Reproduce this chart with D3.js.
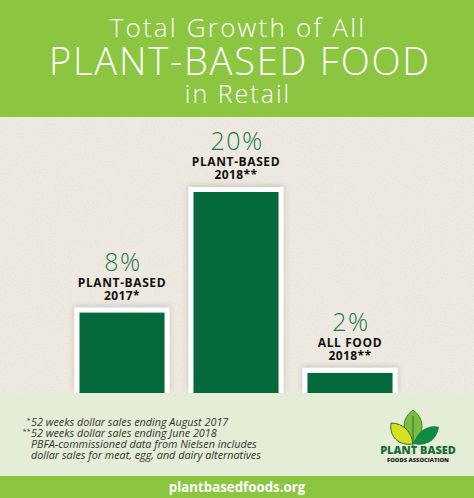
<!DOCTYPE html>
<html><head><meta charset="utf-8">
<script src="https://cdn.jsdelivr.net/npm/d3@7"></script>
<style>html,body{margin:0;padding:0;background:#f1ede5;}svg{display:block;}</style>
</head><body>
<script>
const categories = ["PLANT-BASED|2017*", "PLANT-BASED|2018**", "ALL FOOD|2018**"];
const values = [8, 20, 2];
const valueLabels = ["8%", "20%", "2%"];
const titleLines = ["Total Growth of All", "PLANT-BASED FOOD", "in Retail"];
const footnotes = ["*", "**", "", ""];
const footnoteTexts = ["52 weeks dollar sales ending August 2017", "52 weeks dollar sales ending June 2018", "PBFA-commissioned data from Nielsen includes", "dollar sales for meat, egg, and dairy alternatives"];
const website = "plantbasedfoods.org";
const logoLines = ["PLANT BASED", "FOODS ASSOCIATION"];

const W = 474, H = 498;
const svg = d3.select("body").append("svg").attr("width", W).attr("height", H);
const defs = svg.append("defs");
const f = defs.append("filter").attr("id","tex").attr("x",0).attr("y",0).attr("width","100%").attr("height","100%");
f.append("feTurbulence").attr("type","fractalNoise").attr("baseFrequency",0.9).attr("numOctaves",2).attr("seed",3).attr("result","n");
f.append("feColorMatrix").attr("in","n").attr("type","matrix").attr("values","0 0 0 0 0.55  0 0 0 0 0.5  0 0 0 0 0.42  0 0 0 0.35 -0.08").attr("result","c");
f.append("feComposite").attr("in","c").attr("in2","SourceGraphic").attr("operator","over");
const sh = defs.append("filter").attr("id","sh").attr("x","-20%").attr("y","-20%").attr("width","140%").attr("height","140%");
sh.append("feDropShadow").attr("dx",0).attr("dy",-1).attr("stdDeviation",3).attr("flood-color","#000").attr("flood-opacity",0.18);

// background
svg.append("rect").attr("x",0).attr("y",117).attr("width",W).attr("height",276).attr("fill","#f1ede5").attr("filter","url(#tex)");
// header
svg.append("rect").attr("x",0).attr("y",0).attr("width",W).attr("height",117).attr("fill","#8cc540");
const tf = "'Open Sans', 'Noto Sans', sans-serif";
svg.append("text").attr("x",238).attr("y",37).attr("text-anchor","middle").attr("font-family",tf).attr("font-weight",300).attr("font-size",26).attr("letter-spacing",2.2).attr("fill","#fff").text(titleLines[0]);
svg.append("text").attr("x",240).attr("y",75).attr("text-anchor","middle").attr("font-family",tf).attr("font-weight",300).attr("font-size",38).attr("letter-spacing",1.8).attr("fill","#fff").text(titleLines[1]);
svg.append("text").attr("x",238).attr("y",103).attr("text-anchor","middle").attr("font-family",tf).attr("font-weight",300).attr("font-size",25).attr("letter-spacing",2).attr("fill","#fff").text(titleLines[2]);

// scales
const x = d3.scaleBand().domain(categories).range([65, 407]).paddingInner(0.254).paddingOuter(0.127);
const y = d3.scaleLinear().domain([0, 20]).range([393, 192]);

const g = svg.append("g");
const bars = g.selectAll("g.bar").data(values.map((v,i)=>({v, c:categories[i], l:valueLabels[i]}))).join("g");
bars.append("rect").attr("x",d=>x(d.c)-5).attr("y",d=>y(d.v)-5).attr("width",x.bandwidth()+10).attr("height",d=>393-y(d.v)+5).attr("fill","#fff").attr("filter","url(#sh)");
bars.append("rect").attr("x",d=>x(d.c)).attr("y",d=>y(d.v)).attr("width",x.bandwidth()).attr("height",d=>393-y(d.v)).attr("fill","#03693a");
bars.append("text").attr("x",d=>x(d.c)+x.bandwidth()/2+1).attr("y",d=>y(d.v)-42).attr("text-anchor","middle").attr("font-family",tf).attr("font-weight",300).attr("font-size",25).attr("letter-spacing",1.5).attr("fill","#1d7a44").text(d=>d.l);
bars.append("text").attr("x",d=>x(d.c)+x.bandwidth()/2).attr("y",d=>y(d.v)-26).attr("text-anchor","middle").attr("font-family",tf).attr("font-weight",700).attr("font-size",12).attr("letter-spacing",0.6).attr("fill","#111").text(d=>d.c.split("|")[0]);
bars.append("text").attr("x",d=>x(d.c)+x.bandwidth()/2).attr("y",d=>y(d.v)-13).attr("text-anchor","middle").attr("font-family",tf).attr("font-weight",700).attr("font-size",12).attr("letter-spacing",0.4).attr("fill","#111").text(d=>d.c.split("|")[1]);

// footer panel
svg.append("rect").attr("x",0).attr("y",393).attr("width",W).attr("height",84).attr("fill","#e4edd6");
svg.append("rect").attr("x",0).attr("y",476).attr("width",W).attr("height",22).attr("fill","#8cc540");
svg.append("text").attr("x",237).attr("y",492).attr("text-anchor","middle").attr("font-family",tf).attr("font-weight",700).attr("font-size",13.3).attr("fill","#fff").text(website);

const fn = svg.append("g").attr("font-family",tf).attr("font-style","italic").attr("font-size",10.8).attr("fill","#333");
footnoteTexts.forEach((t,i)=>{
  fn.append("text").attr("x",31).attr("y",426+i*11).text(t);
  if (footnotes[i]) fn.append("text").attr("x",30).attr("y",423+i*11).attr("text-anchor","end").attr("font-size",7).text(footnotes[i]);
});

// logo
const lg = svg.append("g");
lg.append("path").attr("d","M413,444 C400,432 402,418 413,410 C424,418 426,432 413,444 Z").attr("fill","#7cbd3e").attr("stroke","#2c6e35").attr("stroke-width",0.8);
lg.append("path").attr("d","M413,444 C399,446 389,437 391,423 C403,423 412,432 413,444 Z").attr("fill","#d7df23").attr("stroke","#2c6e35").attr("stroke-width",1);
lg.append("path").attr("d","M413,444 C418,430 429,424 439,427 C437,441 425,447 413,444 Z").attr("fill","#128a42");
lg.append("line").attr("x1",413).attr("y1",446).attr("x2",413).attr("y2",416).attr("stroke","#2c6e35").attr("stroke-width",1);
lg.append("text").attr("x",418).attr("y",454).attr("text-anchor","middle").attr("font-family",tf).attr("font-weight",800).attr("font-size",11).attr("fill","#1c6b3a").text(logoLines[0]);
lg.append("text").attr("x",418).attr("y",461.5).attr("text-anchor","middle").attr("font-family",tf).attr("font-weight",800).attr("font-size",5.8).attr("fill","#222").text(logoLines[1]);
</script>
</body></html>
